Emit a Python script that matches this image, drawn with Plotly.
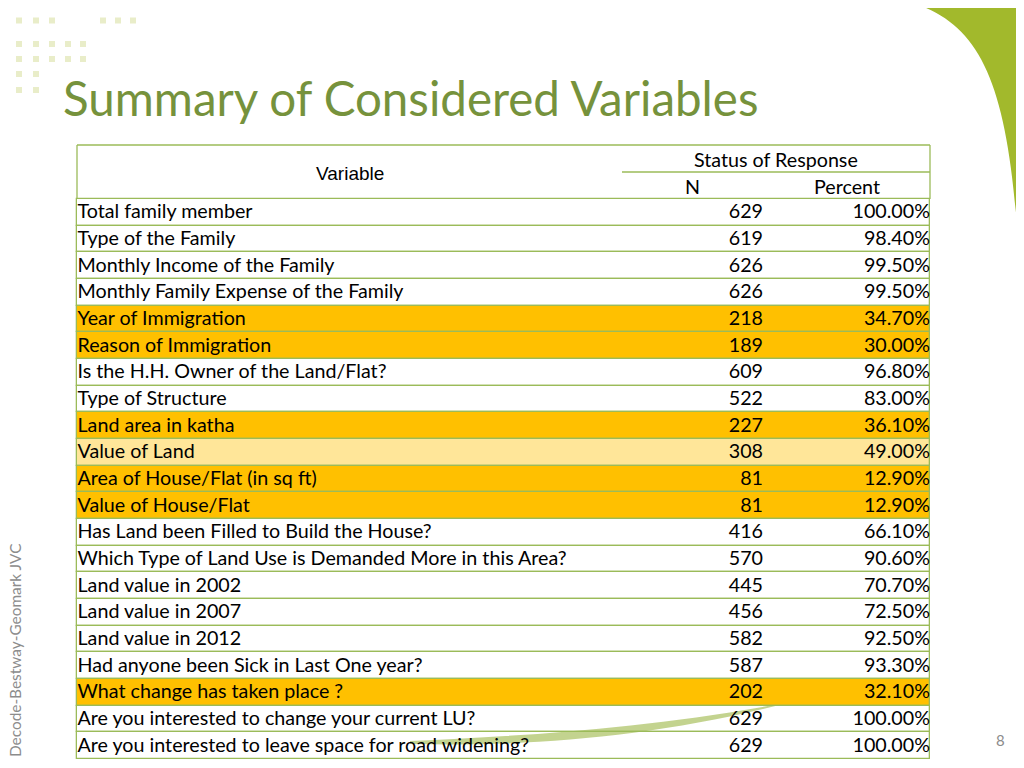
import plotly.graph_objects as go

# ---------------- data ----------------
variables = [
    "Total family member",
    "Type of the Family",
    "Monthly Income of the Family",
    "Monthly Family Expense of the Family",
    "Year of Immigration",
    "Reason of Immigration",
    "Is the H.H. Owner of the Land/Flat?",
    "Type of Structure",
    "Land area in katha",
    "Value of Land",
    "Area of House/Flat (in sq ft)",
    "Value of House/Flat",
    "Has Land been Filled to Build the House?",
    "Which Type of Land Use is Demanded More in this Area?",
    "Land value in 2002",
    "Land value in 2007",
    "Land value in 2012",
    "Had anyone been Sick in Last One year?",
    "What change has taken place ?",
    "Are you interested to change your current LU?",
    "Are you interested to leave space for road widening?",
]
n_values = [629, 619, 626, 626, 218, 189, 609, 522, 227, 308, 81, 81,
            416, 570, 445, 456, 582, 587, 202, 629, 629]
percent_values = [100.00, 98.40, 99.50, 99.50, 34.70, 30.00, 96.80, 83.00,
                  36.10, 49.00, 12.90, 12.90, 66.10, 90.60, 70.70, 72.50,
                  92.50, 93.30, 32.10, 100.00, 100.00]
# highlight: 0 none, 1 strong, 2 light
highlight = [0, 0, 0, 0, 1, 1, 0, 0, 1, 2, 1, 1, 0, 0, 0, 0, 0, 0, 1, 0, 0]

title_text = "Summary of Considered Variables"
header_variable = "Variable"
header_status = "Status of Response"
header_n = "N"
header_pct = "Percent"
side_text = "Decode-Bestway-Geomark JVC"
page_no = "8"

# ---------------- styling / layout ----------------
W, H = 1024, 768
OFF = 8                      # page body margin compensation
TX0, TX1 = 77, 930          # table left / right
HEAD_TOP = 145
SUB_Y = 172
BODY_TOP = 199
BODY_BOT = 759
SPLIT_X = 622
N_RIGHT = 763
PCT_RIGHT = 930
BORDER = "#9BBB59"
FILLS = {0: "rgba(255,255,255,0)", 1: "#FFC000", 2: "#FFE699"}
BODY_FONT = "Lato"
TXT = "#000000"

nrows = len(variables)
rowh = (BODY_BOT - BODY_TOP) / nrows
centers = [BODY_TOP + (i + 0.5) * rowh for i in range(nrows)]

fig = go.Figure()

# row cells as horizontal bars
fig.add_trace(go.Bar(
    orientation="h",
    y=centers,
    x=[TX1 - TX0] * nrows,
    base=TX0,
    width=rowh,
    marker=dict(color=[FILLS[h] for h in highlight],
                line=dict(color=BORDER, width=1.3)),
    hoverinfo="skip",
    showlegend=False,
))

fs = 19.7
text_y = [c + 1 for c in centers]
fig.add_trace(go.Scatter(
    x=[TX0 + 0.5] * nrows, y=text_y, mode="text",
    text=variables, textposition="middle right",
    textfont=dict(family=BODY_FONT, size=fs, color=TXT),
    hoverinfo="skip", showlegend=False,
))
fig.add_trace(go.Scatter(
    x=[N_RIGHT] * nrows, y=text_y, mode="text",
    text=[str(v) for v in n_values], textposition="middle left",
    textfont=dict(family=BODY_FONT, size=fs, color=TXT),
    hoverinfo="skip", showlegend=False,
))
fig.add_trace(go.Scatter(
    x=[PCT_RIGHT] * nrows, y=text_y, mode="text",
    text=[f"{v:.2f}%" for v in percent_values], textposition="middle left",
    textfont=dict(family=BODY_FONT, size=fs, color=TXT),
    hoverinfo="skip", showlegend=False,
))

shapes = []
# header borders
shapes.append(dict(type="line", x0=TX0, x1=TX1, y0=HEAD_TOP, y1=HEAD_TOP,
                   line=dict(color=BORDER, width=1.3)))
shapes.append(dict(type="line", x0=TX0, x1=TX0, y0=HEAD_TOP, y1=BODY_TOP,
                   line=dict(color=BORDER, width=1.3)))
shapes.append(dict(type="line", x0=TX1, x1=TX1, y0=HEAD_TOP, y1=BODY_TOP,
                   line=dict(color=BORDER, width=1.3)))
shapes.append(dict(type="line", x0=SPLIT_X, x1=TX1, y0=SUB_Y, y1=SUB_Y,
                   line=dict(color=BORDER, width=1.3)))

# decorative corner arc (top right)
shapes.append(dict(type="path",
                   path="M 903 0 C 985 22, 1012 85, 1021 292 L 1032 292 L 1032 0 Z",
                   fillcolor="#A2B92C", line=dict(width=0), layer="below"))
# swoosh behind table
shapes.append(dict(type="path",
                   path="M 410 741 C 520 736 650 729 795 701 C 660 737 530 747 410 744 Z",
                   fillcolor="#B4C873", opacity=0.8, line=dict(width=0), layer="below"))

# decorative dots (top left)
dot_rows = [
    (20.5, [19, 36, 52, 103, 118, 133]),
    (44, [19, 36, 52, 68, 83]),
    (59, [19, 36, 52, 68, 83]),
    (74, [19, 36]),
    (90, [19, 36]),
]
for yy, xs in dot_rows:
    for xx in xs:
        shapes.append(dict(type="rect", x0=xx - 3, x1=xx + 3, y0=yy - 3, y1=yy + 3,
                           fillcolor="#E9EDC9", line=dict(width=0), layer="below"))

annotations = [
    dict(x=61, y=97, text=title_text, showarrow=False, xanchor="left", yanchor="middle",
         font=dict(family=BODY_FONT, size=47.5, color="#76923C")),
    dict(x=(TX0 + SPLIT_X) / 2, y=173, text=header_variable, showarrow=False,
         font=dict(family="Liberation Sans", size=19, color=TXT)),
    dict(x=776, y=159, text=header_status, showarrow=False,
         font=dict(family=BODY_FONT, size=fs, color=TXT)),
    dict(x=692, y=186, text=header_n, showarrow=False,
         font=dict(family=BODY_FONT, size=fs, color=TXT)),
    dict(x=847, y=186, text=header_pct, showarrow=False,
         font=dict(family=BODY_FONT, size=fs, color=TXT)),
    dict(x=15, y=650, text=side_text, showarrow=False, textangle=-90,
         font=dict(family=BODY_FONT, size=15.4, color="#8C8C8C")),
    dict(x=1000, y=740, text=page_no, showarrow=False,
         font=dict(family=BODY_FONT, size=15, color="#8C8C8C")),
]

fig.update_layout(
    width=W, height=H,
    margin=dict(l=0, r=0, t=0, b=0),
    paper_bgcolor="white", plot_bgcolor="white",
    xaxis=dict(range=[OFF, W + OFF], visible=False, fixedrange=True),
    yaxis=dict(range=[H + OFF, OFF], visible=False, fixedrange=True),
    shapes=shapes,
    annotations=annotations,
    bargap=0,
)

fig.write_html("out.html")
